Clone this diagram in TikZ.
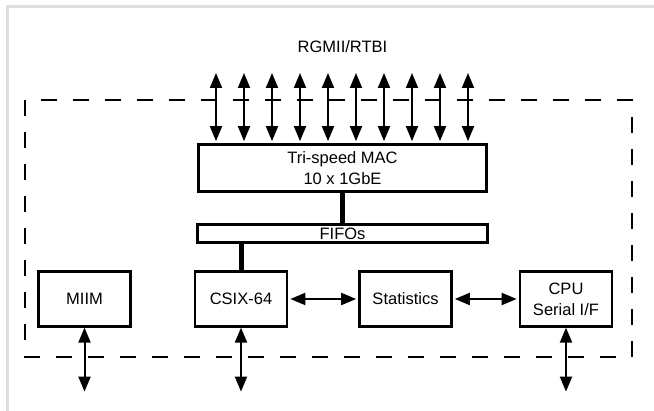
\documentclass[tikz,border=0pt]{standalone}
\usepackage{fontspec}
\setmainfont{Liberation Sans}
\usepackage{tikz}
\usetikzlibrary{arrows.meta}
\usetikzlibrary{positioning,
                calc}

\begin{document}
\begin{tikzpicture}[
        x=1pt, y=-1pt,
        font=\fontsize{16.5}{21}\selectfont,
        block/.style={draw, line width=2.7pt, minimum width=92pt, minimum height=54.5pt, align=center, inner sep=2pt},
        bus/.style={line width=5pt},
        dblarrow/.style={{Triangle[length=15pt,width=12pt]}-{Triangle[length=15pt,width=12pt]}, line width=2pt},
        dashbox/.style={line width=2.7pt, dash pattern=on 16pt off 16pt}
        ]

        % Frame
        \useasboundingbox (0,0) rectangle (654,411);
        \draw[line width=3pt, color=black!13] (7,411) -- (7,7) -- (654,7);

        % Nodes
        \node[block, minimum width=288pt, minimum height=47pt] (mac) at (342.5,168) {Tri-speed MAC\\10 x 1GbE};
        \node[block, minimum width=290pt, minimum height=18.5pt, inner sep=0pt] (fifo) at (342.5,233.5) {FIFOs};
        \node[block] (miim) at (84.5,299) {MIIM};
        \node[block] (csix) at (241,299) {CSIX-64};
        \node[block] (stats) at (405.5,299) {Statistics};
        \node[block] (cpu) at (566,299) {CPU\\Serial I/F};
        \node (rgmii) at (342.5,47) {RGMII/RTBI};

        % Chip outline
        \draw[dashbox] (25,100) rectangle (632,357);

        % Arrows
        \foreach \i in {0,...,9} {
            \coordinate (pin\i) at (216+28*\i,73);
            \draw[dblarrow, shorten >=2pt] (pin\i) -- (pin\i |- mac.north);
        }
        \draw[bus] (mac.south) -- (fifo.north);
        \draw[bus] (csix.north) -- (csix.north |- fifo.south);
        \draw[dblarrow, shorten <=2pt, shorten >=2pt] (csix) -- (stats);
        \draw[dblarrow, shorten <=2pt, shorten >=2pt] (stats) -- (cpu);
        \coordinate (miimio) at ([yshift=-64pt]miim.south);
        \coordinate (csixio) at ([yshift=-64pt]csix.south);
        \coordinate (cpuio) at ([yshift=-64pt]cpu.south);
        \draw[dblarrow] (miim.south) -- (miimio);
        \draw[dblarrow] (csix.south) -- (csixio);
        \draw[dblarrow] (cpu.south) -- (cpuio);

\end{tikzpicture}
\end{document}
